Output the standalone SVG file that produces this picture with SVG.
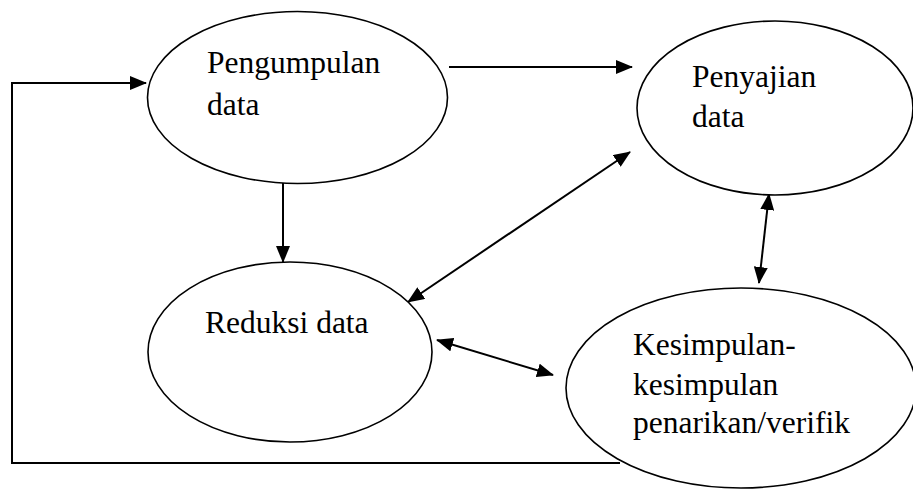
<svg xmlns="http://www.w3.org/2000/svg" width="913" height="489" viewBox="0 0 913 489">
<style>
.node ellipse{fill:#fff;stroke:#000;stroke-width:1.6}
.node text{font-family:"Liberation Serif","Times New Roman",serif;font-size:31.5px;fill:#000}
.conn line,.conn polyline{stroke:#000;stroke-width:2;fill:none}
</style>
<defs>
<marker id="ah" markerUnits="userSpaceOnUse" markerWidth="17" markerHeight="14" refX="16" refY="7" orient="auto-start-reverse" viewBox="0 0 17 14">
<path d="M0,0 L17,7 L0,14 z" fill="#000"/>
</marker>
</defs>
<g class="conn">
<polyline points="620,463 12,463 12,83 146,83" marker-end="url(#ah)"/>
<line x1="449" y1="67" x2="632" y2="67" marker-end="url(#ah)"/>
<line x1="283" y1="183" x2="283" y2="262" marker-end="url(#ah)"/>
<line x1="408" y1="302" x2="630" y2="152" marker-start="url(#ah)" marker-end="url(#ah)"/>
<line x1="769" y1="194" x2="759" y2="283" marker-start="url(#ah)" marker-end="url(#ah)"/>
<line x1="437" y1="340" x2="553" y2="375" marker-start="url(#ah)" marker-end="url(#ah)"/>
</g>
<g id="pengumpulan" class="node">
<ellipse cx="297.5" cy="97.5" rx="150" ry="86"/>
<text x="207" y="73">Pengumpulan</text>
<text x="207" y="115">data</text>
</g>
<g id="penyajian" class="node">
<ellipse cx="775" cy="108" rx="138" ry="87"/>
<text x="692" y="87">Penyajian</text>
<text x="692" y="127">data</text>
</g>
<g id="reduksi" class="node">
<ellipse cx="290" cy="352" rx="142" ry="90"/>
<text x="205" y="333">Reduksi data</text>
</g>
<g id="kesimpulan" class="node">
<ellipse cx="741" cy="388" rx="175" ry="100"/>
<text x="633" y="355">Kesimpulan-</text>
<text x="633" y="395">kesimpulan</text>
<text x="633" y="433">penarikan/verifik</text>
</g>
</svg>
